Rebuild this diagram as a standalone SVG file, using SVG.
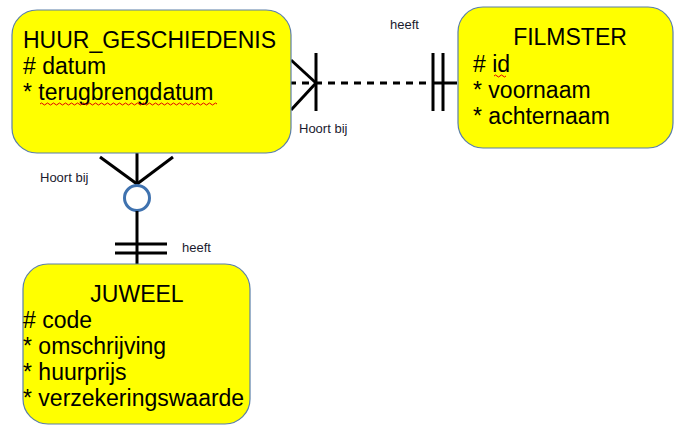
<svg xmlns="http://www.w3.org/2000/svg" width="675" height="428" viewBox="0 0 675 428">
<style>
.box{fill:#ffff00;stroke:#5b7fa8;stroke-width:1.2}
.t{font-family:"Liberation Sans",Arial,sans-serif;font-size:23px;fill:#000}
.lbl{font-family:"Liberation Sans",Arial,sans-serif;font-size:13px;fill:#1a1a2e}
.ln{stroke:#000;stroke-width:3;fill:none}
.dash{stroke:#000;stroke-width:3;stroke-dasharray:7 6;fill:none}
.sq{stroke:#e00000;stroke-width:1;fill:none}
</style>
<rect width="675" height="428" fill="#fff"/>
<g id="connectors">
  <!-- HUUR - FILMSTER -->
  <line class="dash" x1="289" y1="83" x2="432" y2="83"/>
  <line class="ln" x1="432" y1="83" x2="457" y2="83"/>
  <line class="ln" x1="291" y1="60" x2="316" y2="83"/>
  <line class="ln" x1="291" y1="110" x2="316" y2="83"/>
  <line class="ln" x1="316" y1="53" x2="316" y2="111"/>
  <line class="ln" x1="433" y1="53" x2="433" y2="111"/>
  <line class="ln" x1="443" y1="53" x2="443" y2="111"/>
  <!-- HUUR - JUWEEL -->
  <line class="ln" x1="137" y1="153" x2="137" y2="185"/>
  <line class="ln" x1="100" y1="157" x2="137" y2="184"/>
  <line class="ln" x1="173" y1="157" x2="137" y2="184"/>
  <circle cx="137" cy="198" r="12.5" fill="#fff" stroke="#3f72af" stroke-width="3"/>
  <line class="ln" x1="137" y1="211" x2="137" y2="264"/>
  <line class="ln" x1="115" y1="244" x2="167" y2="244"/>
  <line class="ln" x1="115" y1="253" x2="167" y2="253"/>
  <text class="lbl" x="390" y="29">heeft</text>
  <text class="lbl" x="299" y="133">Hoort bij</text>
  <text class="lbl" x="40" y="182">Hoort bij</text>
  <text class="lbl" x="182" y="252">heeft</text>
</g>
<g id="huur_geschiedenis">
  <rect class="box" x="12" y="10" width="279" height="143" rx="25"/>
  <text class="t" x="23" y="48">HUUR_GESCHIEDENIS</text>
  <text class="t" x="23" y="74"># datum</text>
  <text class="t" x="23" y="100">* terugbrengdatum</text>
  <path class="sq" d="M40 104 q1.5 -2 3 0 t3 0 t3 0 t3 0 t3 0 t3 0 t3 0 t3 0 t3 0 t3 0 t3 0 t3 0 t3 0 t3 0 t3 0 t3 0 t3 0 t3 0 t3 0 t3 0 t3 0 t3 0 t3 0 t3 0 t3 0 t3 0 t3 0 t3 0 t3 0 t3 0 t3 0 t3 0 t3 0 t3 0 t3 0 t3 0 t3 0 t3 0 t3 0 t3 0 t3 0 t3 0 t3 0 t3 0 t3 0 t3 0 t3 0 t3 0 t3 0 t3 0 t3 0 t3 0 t3 0 t3 0 t3 0 t3 0 t3 0 t3 0 t3 0"/>
</g>
<g id="filmster">
  <rect class="box" x="458" y="7" width="215" height="141" rx="25"/>
  <text class="t" x="570" y="45" text-anchor="middle">FILMSTER</text>
  <text class="t" x="473" y="72"># id</text>
  <text class="t" x="473" y="98">* voornaam</text>
  <text class="t" x="473" y="124">* achternaam</text>
  <path class="sq" d="M494 76 q1.5 -2 3 0 t3 0 t3 0 t3 0"/>
</g>
<g id="juweel">
  <rect class="box" x="23" y="264" width="227" height="160" rx="25"/>
  <text class="t" x="137" y="302" text-anchor="middle">JUWEEL</text>
  <text class="t" x="23" y="328"># code</text>
  <text class="t" x="23" y="354">* omschrijving</text>
  <text class="t" x="23" y="380">* huurprijs</text>
  <text class="t" x="23" y="406">* verzekeringswaarde</text>
</g>
</svg>
